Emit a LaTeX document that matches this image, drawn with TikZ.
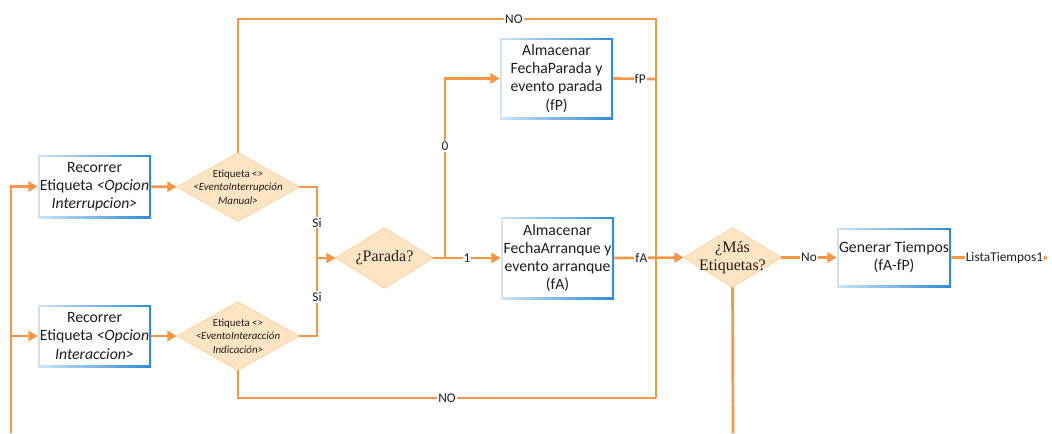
\documentclass[tikz,border=0pt]{standalone}
\usepackage{fontspec}
\setmainfont{Carlito}
\newfontfamily\qfont{Liberation Serif}
\usetikzlibrary{arrows.meta,backgrounds}
\definecolor{flow}{HTML}{F79646}
\definecolor{diafill}{HTML}{FDE4C3}
\definecolor{diaedge}{HTML}{F9D3A4}
\definecolor{boxL}{HTML}{CFE3F5}
\definecolor{boxR}{HTML}{2B8CD5}
\definecolor{ink}{HTML}{1F1F1F}
\begin{document}
\begin{tikzpicture}[x=0.75pt,y=-0.75pt,
  flowline/.style={draw=flow,line width=2pt},
  arr/.style={flowline,-{Triangle[length=7pt,width=7.5pt]}},
  box/.style={left color=boxL,right color=boxR,minimum width=84.75pt,
    align=center,inner sep=1pt,text=ink,
    font=\fontsize{11.8}{13.6}\selectfont,
    path picture={\fill[white]
      ([xshift=1.6pt,yshift=-1.6pt]path picture bounding box.north west) rectangle
      ([xshift=-1.6pt,yshift=1.6pt]path picture bounding box.south east);}},
  dia/.style={inner sep=0pt,align=center,text=ink,
    minimum width=91.5pt,minimum height=51pt},
  smalltext/.style={font=\fontsize{8.2}{10}\selectfont},
  qtext/.style={font=\qfont\fontsize{12}{14}\selectfont},
  lbl/.style={fill=white,inner sep=0.8pt,text=ink,font=\fontsize{10}{11.5}\selectfont}]
\useasboundingbox (0,0) rectangle (1052,433);

% process boxes
\node[box,minimum height=47.25pt] (b1) at (94.5,186.5)
  {Recorrer\\Etiqueta \textit{<Opcion}\\\textit{Interrupcion>}};
\node[box,minimum height=46.5pt] (b2) at (94.5,336)
  {Recorrer\\Etiqueta \textit{<Opcion}\\\textit{Interaccion>}};
\node[box,minimum height=60.75pt] (bP) at (556.5,78.5)
  {Almacenar\\FechaParada y\\evento parada\\(fP)};
\node[box,minimum height=61.5pt] (bA) at (557.5,258)
  {Almacenar\\FechaArranque y\\evento arranque\\(fA)};
\node[box,minimum width=85.5pt,minimum height=44.25pt] (gen) at (894,257.5)
  {Generar Tiempos\\(fA-fP)};

% decisions
\node[dia,smalltext] (d1) at (238,187)
  {Etiqueta <>\\\textit{<EventoInterrupción}\\\textit{Manual>}};
\node[dia,smalltext] (d2) at (238,336)
  {Etiqueta <>\\\textit{<EventoInteracción}\\\textit{Indicación>}};
\node[dia,qtext,minimum width=72.75pt,minimum height=45pt] (dp) at (384.5,258) {¿Parada?};
\node[dia,qtext,minimum width=72.75pt,minimum height=44.25pt] (dm) at (732.5,257.5) {¿Más\\Etiquetas?};

\begin{scope}[on background layer]
  \foreach \d in {d1,d2,dp,dm}
    \filldraw[fill=diafill,draw=diaedge,line width=0.6pt]
      (\d.west) -- (\d.north) -- (\d.east) -- (\d.south) -- cycle;
\end{scope}

% junction points
\coordinate (lb) at (11,433);
\coordinate (l2) at (11,336);
\coordinate (jn) at (317,258);
\coordinate (sp) at (445,258);
\coordinate (vT) at (656,19);
\coordinate (vP) at (656,79);
\coordinate (vM) at (656,258);
\coordinate (vB) at (656,398);
\coordinate (mb) at (733,433);
\coordinate (out) at (1048,258);

% loop feed on the left
\draw[arr] (lb) |- (b1.west);
\draw[arr] (l2) -- (b2.west);
\draw[arr] (b1) -- (d1);
\draw[arr] (b2) -- (d2);

% both "Si" branches merge into the stop test
\draw[flowline] (d1.east) -| node[lbl,pos=0.75] {Si} (jn);
\draw[flowline] (d2.east) -| node[lbl,pos=0.75] {Si} (jn);
\draw[arr] (jn) -- (dp.west);

% stop test outcomes
\draw[arr] (sp) |- node[lbl,pos=0.31] {0} (bP.west);
\draw[arr] (dp.east) -- node[lbl,pos=0.5] {1} (bA.west);

% "NO" loops around the block
\draw[flowline] (d1.north) |- node[lbl,pos=0.83] {NO} (vT) -- (vB);
\draw[flowline] (d2.south) |- node[lbl,pos=0.75] {NO} (vB);

% stored dates into the next decision
\draw[flowline] (bP.east) -- node[lbl,pos=0.63] {fP} (vP);
\draw[arr] (bA.east) -- node[lbl,pos=0.39] {fA} (dm.west);

% end of loop
\draw[flowline] (dm.south) -- (mb);
\draw[arr] (dm.east) -- node[lbl,pos=0.5] {No} (gen.west);
\draw[arr] (gen.east) -- node[lbl,pos=0.55] {ListaTiempos1} (out);
\end{tikzpicture}
\end{document}
